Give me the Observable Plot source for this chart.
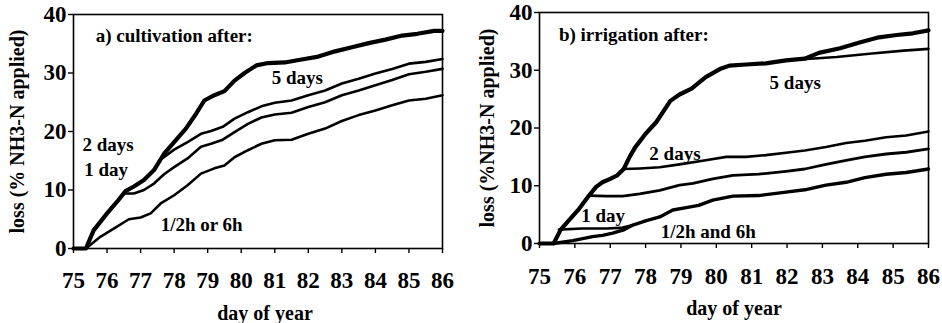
<!DOCTYPE html>
<html><head><meta charset="utf-8">
<script src="https://cdn.jsdelivr.net/npm/d3@7"></script>
<script src="https://cdn.jsdelivr.net/npm/@observablehq/plot@0.6"></script>
<style>
body{margin:0;background:#fff}
#wrap{display:flex;width:942px;height:323px;overflow:hidden}
svg text{font-family:"Liberation Serif","Times New Roman",serif;font-weight:bold}
</style>
</head><body><div id="wrap"></div>
<script>
// ---- tick values ----
const dayTicks = [75, 76, 77, 78, 79, 80, 81, 82, 83, 84, 85, 86];
const lossTicks = [0, 10, 20, 30, 40];

// ---- panel a) cultivation after: [day, loss %] ----
const cult5days = [[75,0],[75.37,0],[75.6,3.1],[76.0,6.0],[76.3,8.0],[76.55,9.8],[76.8,10.6],[77.1,11.7],[77.4,13.4],[77.7,16.2],[78.0,18.2],[78.35,20.5],[78.65,23.0],[78.9,25.3],[79.2,26.2],[79.5,26.9],[79.8,28.7],[80.1,30.0],[80.45,31.3],[80.8,31.7],[81.3,31.8],[81.8,32.3],[82.3,32.8],[82.8,33.7],[83.3,34.4],[83.8,35.1],[84.3,35.7],[84.8,36.4],[85.25,36.7],[85.75,37.2],[86,37.2]];
const cult2days = [[77.55,15.0],[78.0,16.9],[78.4,18.2],[78.8,19.6],[79.1,20.1],[79.45,20.8],[79.8,22.2],[80.2,23.3],[80.6,24.3],[81,24.9],[81.5,25.3],[82,26.2],[82.5,27.0],[83,28.2],[83.5,29.0],[84,29.9],[84.5,30.7],[85,31.6],[85.5,31.9],[86,32.4]];
const cult1day = [[76.5,9.4],[76.8,9.4],[77.1,10.0],[77.4,11.1],[77.7,12.7],[78,13.9],[78.4,15.4],[78.8,17.4],[79.1,17.9],[79.45,18.6],[79.8,19.9],[80.2,21.3],[80.6,22.4],[81,22.9],[81.5,23.2],[82,24.2],[82.5,25.0],[83,26.2],[83.5,27.0],[84,27.9],[84.5,28.8],[85,29.8],[85.5,30.2],[86,30.7]];
const cultHalfOr6h = [[75.37,0],[75.8,2.0],[76.2,3.4],[76.65,5.0],[77.0,5.3],[77.3,6.0],[77.6,7.7],[78,9.1],[78.4,10.8],[78.8,12.8],[79.2,13.7],[79.5,14.2],[79.8,15.6],[80.2,16.8],[80.6,17.9],[81,18.5],[81.5,18.6],[82,19.6],[82.5,20.5],[83,21.8],[83.5,22.8],[84,23.6],[84.5,24.5],[85,25.3],[85.5,25.6],[86,26.2]];

// ---- panel b) irrigation after: [day, loss %] ----
const irrControl = [[75,0],[75.4,0],[75.6,2.4],[75.83,4.0],[76.12,6.0],[76.4,8.3],[76.6,9.8],[76.78,10.6],[77.0,11.2],[77.2,11.8],[77.38,12.9],[77.55,15.0],[77.7,16.6],[78.0,19.0],[78.3,21.0],[78.7,24.7],[78.96,25.8],[79.3,26.8],[79.7,28.8],[80.1,30.2],[80.37,30.8],[80.84,31.0],[81.4,31.2],[81.97,31.7],[82.5,32.0],[82.9,33.0],[83.5,33.8],[84.05,34.8],[84.6,35.7],[85.1,36.1],[85.56,36.4],[86,36.9]];
const irr5days = [[82.45,31.9],[83.4,32.3],[84.4,32.9],[85.3,33.4],[86,33.7]];
const irr2days = [[77.38,12.9],[77.83,13.0],[78.4,13.2],[78.96,13.7],[79.7,14.4],[80.28,15.0],[80.84,15.0],[81.4,15.3],[81.97,15.7],[82.5,16.1],[83.1,16.7],[83.67,17.4],[84.2,17.8],[84.8,18.4],[85.37,18.7],[86,19.4]];
const irr1day = [[76.4,8.3],[76.9,8.2],[77.36,8.2],[77.83,8.6],[78.4,9.2],[78.96,10.1],[79.34,10.4],[79.9,11.2],[80.47,11.8],[81.2,12.0],[81.97,12.5],[82.5,12.9],[83.1,13.7],[83.67,14.4],[84.2,15.0],[84.8,15.5],[85.37,15.8],[86,16.4]];
const irrHalfHour = [[75.4,0],[75.94,0.5],[76.5,1.2],[76.78,1.4],[77.07,1.8],[77.36,2.3],[77.64,3.2],[78.0,3.9],[78.4,4.6],[78.77,5.8],[79.15,6.2],[79.5,6.6],[79.9,7.5],[80.47,8.2],[81.2,8.3],[81.97,8.9],[82.5,9.3],[83.1,10.1],[83.67,10.6],[84.2,11.4],[84.8,12.0],[85.37,12.3],[86,12.9]];
const irr6h = [[75.55,2.4],[76.2,2.6],[76.9,2.6],[77.3,2.7],[77.5,3.0],[77.64,3.2]];

// ---- annotations (text, day, loss) ----
const cultLabels = [
  {text:"a) cultivation after:", day:75.66, loss:36.4, anchor:"start"},
  {text:"5 days", day:81.67, loss:29.2, anchor:"middle"},
  {text:"2 days", day:75.27, loss:17.7, anchor:"start"},
  {text:"1 day", day:75.32, loss:13.5, anchor:"start"},
  {text:"1/2h or 6h", day:78.82, loss:4.1, anchor:"middle"}
];
const irrLabels = [
  {text:"b) irrigation after:", day:75.55, loss:36.1, anchor:"start"},
  {text:"5 days", day:82.23, loss:27.8, anchor:"middle"},
  {text:"2 days", day:78.83, loss:15.5, anchor:"middle"},
  {text:"1 day", day:76.8, loss:4.7, anchor:"middle"},
  {text:"1/2h and 6h", day:79.77, loss:2.0, anchor:"middle"}
];

const FONT = "Liberation Serif";

function lineMark(data, w) {
  return Plot.line(data, {x: d => d[0], y: d => d[1], stroke: "#000", strokeWidth: w, strokeLinejoin: "round", strokeLinecap: "round"});
}

function panel(o) {
  const t = {fill: "#000", fontFamily: FONT, fontWeight: "bold"};
  return Plot.plot({
    width: 471, height: 323,
    marginLeft: o.ml, marginRight: o.mr, marginTop: o.mt, marginBottom: o.mb,
    style: {fontFamily: FONT, fontWeight: "bold", background: "#fff", color: "#000"},
    x: {domain: [75, 86], axis: null},
    y: {domain: [0, 40], axis: null},
    marks: [
      Plot.frame({stroke: "#000", strokeWidth: 1.6}),
      Plot.axisX({ticks: dayTicks, tickSize: 5, tickFormat: () => "", label: null, strokeWidth: 1.4}),
      Plot.axisY({ticks: lossTicks, tickSize: 5, tickFormat: () => "", label: null, strokeWidth: 1.4}),
      Plot.text(dayTicks, {x: d => d, y: 0, lineAnchor: "middle", dy: o.xdy, text: d => String(d), fontSize: 23, ...t}),
      Plot.text(lossTicks, {y: d => d, x: 75, textAnchor: "end", dx: o.ydxTick, text: d => String(d), fontSize: 23, ...t}),
      ...o.lines.map(([data, w]) => lineMark(data, w)),
      Plot.text(o.labels.filter(d => d.anchor === "start"), {x: "day", y: "loss", text: "text", textAnchor: "start", fontSize: 19, ...t}),
      Plot.text(o.labels.filter(d => d.anchor === "middle"), {x: "day", y: "loss", text: "text", textAnchor: "middle", fontSize: 19, ...t}),
      Plot.text([o.ylabel], {frameAnchor: "left", textAnchor: "middle", lineAnchor: "middle", dx: o.ydx, rotate: -90, fontSize: 20, ...t}),
      Plot.text(["day of year"], {frameAnchor: "bottom", textAnchor: "middle", lineAnchor: "middle", dy: 65, dx: o.xdx, fontSize: 20, ...t})
    ]
  });
}

const left = panel({
  ml: 73, mr: 29, mt: 14, mb: 75, xdy: 32, ydxTick: -7, ydx: -56, xdx: 7,
  ylabel: "loss (% NH3-N applied)",
  labels: cultLabels,
  lines: [[cultHalfOr6h, 2.6], [cult1day, 2.6], [cult2days, 2.6], [cult5days, 4.2]]
});
const right = panel({
  ml: 68, mr: 14, mt: 12, mb: 80, xdy: 33, ydxTick: -7, ydx: -52, xdx: 0,
  ylabel: "loss (%NH3-N applied)",
  labels: irrLabels,
  lines: [[irrHalfHour, 3.4], [irr6h, 2.6], [irr1day, 2.8], [irr2days, 2.6], [irr5days, 2.6], [irrControl, 4.2]]
});
document.getElementById("wrap").append(left, right);
</script>
</body></html>
